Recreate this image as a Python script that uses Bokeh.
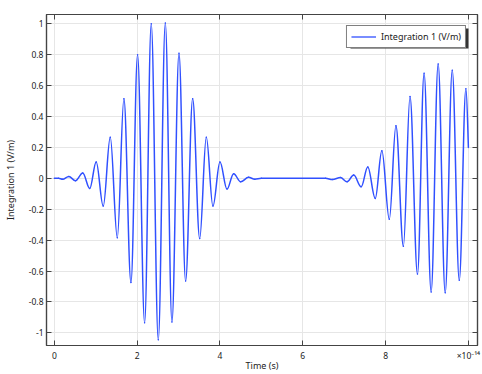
import numpy as np
from bokeh.plotting import figure
from bokeh.models import (ColumnDataSource, Range1d, LinearAxis, FixedTicker,
                          Legend, LegendItem, BoxAnnotation)
from bokeh.embed import file_html
from bokeh.resources import INLINE

# ---- data: successive extrema of the signal ----
# time in units of 1e-14 s, field in V/m
time_e14 = [0.00, 0.10, 0.20, 0.35, 0.51, 0.685, 0.855, 1.01, 1.18, 1.35, 1.52,
            1.68, 1.85, 2.01, 2.18, 2.34, 2.51, 2.68, 2.84, 3.01, 3.17, 3.34,
            3.51, 3.67, 3.83, 4.00, 4.17, 4.33, 4.50, 4.69, 4.84, 5.00,
            6.55, 6.72, 6.91, 7.07, 7.23, 7.41, 7.57, 7.75, 7.91, 8.09, 8.25,
            8.43, 8.59, 8.77, 8.93, 9.10, 9.27, 9.44, 9.61, 9.78, 9.94, 10.00]
field_vm = [0.0, 0.0, -0.006, 0.012, -0.016, 0.034, -0.066, 0.106, -0.18, 0.265, -0.385,
            0.514, -0.675, 0.80, -0.935, 1.00, -1.045, 1.005, -0.93, 0.81, -0.665, 0.514,
            -0.39, 0.265, -0.18, 0.106, -0.07, 0.03, -0.023, 0.006, -0.006, 0.0,
            0.0, -0.008, 0.005, -0.023, 0.021, -0.055, 0.073, -0.13, 0.178, -0.265, 0.34,
            -0.44, 0.53, -0.62, 0.68, -0.735, 0.74, -0.74, 0.70, -0.66, 0.58, 0.20]

x_ticks = [0, 2, 4, 6, 8, 10]
x_tick_labels = ["0", "2", "4", "6", "8", "\u00d710\u207b\u00b9\u2074"]   # last one: x10^-14 multiplier
y_ticks = [-1, -0.8, -0.6, -0.4, -0.2, 0, 0.2, 0.4, 0.6, 0.8, 1]
y_tick_labels = ["-1", "-0.8", "-0.6", "-0.4", "-0.2", "0", "0.2", "0.4", "0.6", "0.8", "1"]
series_label = "Integration 1 (V/m)"
x_title = "Time (s)"
y_title = "Integration 1 (V/m)"

FONT = "Noto Sans"
LINE_COLOR = "#3050ff"
FRAME_COLOR = "#444444"
GRID_COLOR = "#e6e6e6"
TEXT_COLOR = "#222222"

# ---- smooth segments between successive extrema (horizontal tangents) ----
t = np.asarray(time_e14, dtype=float)
v = np.asarray(field_vm, dtype=float)
t0, t1, v0, v1 = t[:-1], t[1:], v[:-1], v[1:]
dt = t1 - t0
k = 0.364
cx0, cx1 = t0 + k * dt, t1 - k * dt
cy0, cy1 = v0.copy(), v1.copy()
cy1[-1] = v1[-1] + 0.5 * (v0[-1] - v1[-1])   # last point is not an extremum

rising = v1 >= v0
falling = ~rising
seg_up = ColumnDataSource(dict(x0=t0[rising], y0=v0[rising], x1=t1[rising], y1=v1[rising],
                               cx0=cx0[rising], cy0=cy0[rising],
                               cx1=cx1[rising], cy1=cy1[rising]))
# falling segments are drawn from their lower end to their upper end
seg_dn = ColumnDataSource(dict(x0=t1[falling], y0=v1[falling], x1=t0[falling], y1=v0[falling],
                               cx0=cx1[falling], cy0=cy1[falling],
                               cx1=cx0[falling], cy1=cy0[falling]))

p = figure(width=482, height=374, output_backend="svg", toolbar_location=None,
           x_range=Range1d(-0.19, 10.22), y_range=Range1d(-1.082, 1.06),
           min_border_left=46, min_border_right=5, min_border_top=14,
           min_border_bottom=27, background_fill_color="white",
           border_fill_color="white")
p.outline_line_color = FRAME_COLOR
p.outline_line_width = 1.2

for src in (seg_up, seg_dn):
    p.bezier(x0="x0", y0="y0", x1="x1", y1="y1", cx0="cx0", cy0="cy0",
             cx1="cx1", cy1="cy1", source=src, line_color=LINE_COLOR,
             line_width=1.5, line_cap="round")

# grids
p.xgrid.ticker = FixedTicker(ticks=x_ticks)
p.ygrid.ticker = FixedTicker(ticks=y_ticks)
for g in (p.xgrid[0], p.ygrid[0]):
    g.grid_line_color = GRID_COLOR
    g.grid_line_width = 1

def style_axis(ax):
    ax.axis_line_color = FRAME_COLOR
    ax.axis_line_width = 1.2
    ax.major_tick_line_color = FRAME_COLOR
    ax.minor_tick_line_color = FRAME_COLOR
    ax.major_tick_in = 5
    ax.major_tick_out = 0
    ax.minor_tick_in = 5
    ax.minor_tick_out = 0
    ax.major_label_text_font = FONT
    ax.major_label_text_font_size = "8.5px"
    ax.major_label_text_color = TEXT_COLOR
    ax.axis_label_text_font = FONT
    ax.axis_label_text_font_size = "9px"
    ax.axis_label_text_font_style = "normal"
    ax.axis_label_text_color = TEXT_COLOR

xa = p.xaxis[0]
xa.ticker = FixedTicker(ticks=x_ticks, minor_ticks=[])
xa.major_label_overrides = dict(zip(x_ticks, x_tick_labels))
xa.axis_label = x_title
style_axis(xa)
xa.major_label_standoff = 4
xa.axis_label_standoff = -5

ya = p.yaxis[0]
ya.ticker = FixedTicker(ticks=y_ticks, minor_ticks=[])
ya.major_label_overrides = dict(zip(y_ticks, y_tick_labels))
ya.axis_label = y_title
style_axis(ya)
ya.major_label_standoff = 3
ya.axis_label_standoff = 9

# mirrored tick marks on top and right, no labels
for place, ticks in (("above", x_ticks), ("right", y_ticks)):
    ax = LinearAxis(ticker=FixedTicker(ticks=[], minor_ticks=ticks))
    style_axis(ax)
    ax.major_label_standoff = 0
    ax.axis_label_standoff = 0
    p.add_layout(ax, place)

# legend with a drop shadow
legend_src = ColumnDataSource(dict(x=time_e14[:1], y=field_vm[:1]))
legend_line = p.line(x="x", y="y", source=legend_src, line_color=LINE_COLOR, line_width=1.3)
shadow = BoxAnnotation(left=350, right=468, top=28, bottom=48,
                       left_units="canvas", right_units="canvas",
                       top_units="canvas", bottom_units="canvas",
                       fill_color="#333333", fill_alpha=1.0, line_color=None)
p.add_layout(shadow)
legend = Legend(items=[LegendItem(label=series_label, renderers=[legend_line])],
                location="top_right", margin=11, padding=4, spacing=0,
                glyph_width=25, glyph_height=11, label_height=11, label_standoff=5,
                label_text_font=FONT, label_text_font_size="9px",
                label_text_color=TEXT_COLOR,
                border_line_color="black", border_line_width=1,
                background_fill_color="white", background_fill_alpha=1.0)
p.add_layout(legend)

open("out.html", "w").write(file_html(p, INLINE))
